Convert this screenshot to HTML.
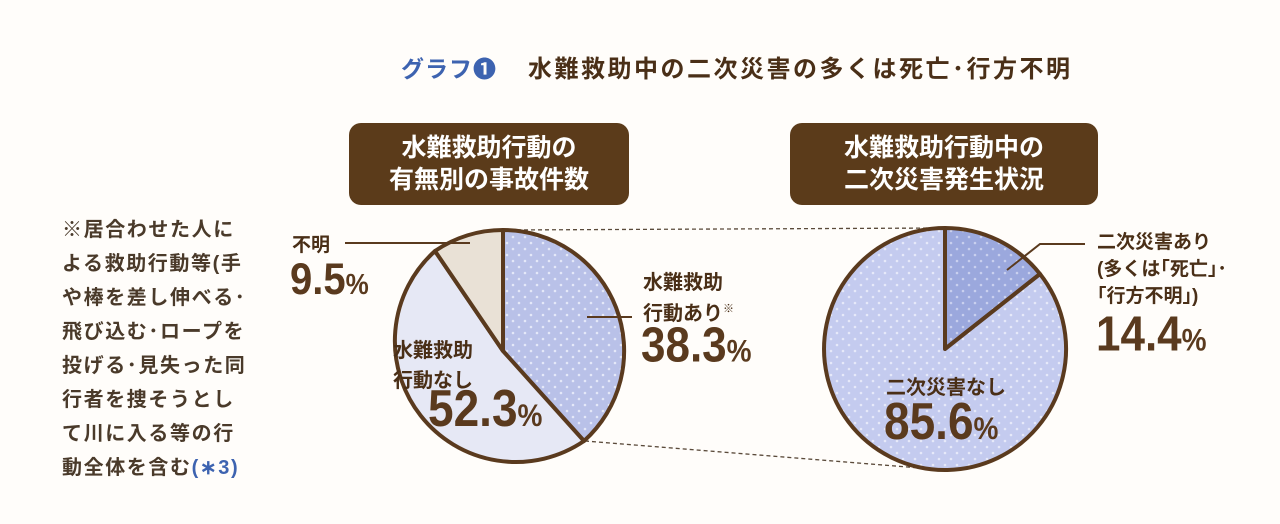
<!DOCTYPE html>
<html><head><meta charset="utf-8"><style>
html,body{margin:0;padding:0;background:#fffdfa;}
body{width:1280px;height:524px;position:relative;overflow:hidden;font-family:"Liberation Sans","Noto Sans CJK JP",sans-serif;}
.t{position:absolute;white-space:nowrap;}
.note{position:absolute;left:62px;top:213px;font-size:20px;line-height:34px;color:#4a3a2a;font-weight:bold;letter-spacing:1.6px;}
.box{position:absolute;background:#5b3b1a;border-radius:12px;color:#fff;font-weight:bold;font-size:25px;line-height:32px;text-align:center;}
.n{transform-origin:0 0;transform:scaleY(1.12);}
</style></head><body>
<div class="t" style="left:401px;top:50px;font-size:23px;font-weight:bold;color:#3d63b0;letter-spacing:1px;">グラフ❶</div>
<div class="t" style="left:528px;top:49px;font-size:24px;font-weight:bold;color:#4a2f17;letter-spacing:2.5px;">水難救助中の二次災害の多くは死亡･行方不明</div>
<div class="box" style="left:349px;top:123px;width:280px;height:82px;padding-top:9px;box-sizing:border-box;">水難救助行動の<br>有無別の事故件数</div>
<div class="box" style="left:790px;top:123px;width:308px;height:82px;padding-top:9px;box-sizing:border-box;">水難救助行動中の<br>二次災害発生状況</div>
<div class="note">※居合わせた人に<br>よる救助行動等(手<br>や棒を差し伸べる･<br>飛び込む･ロープを<br>投げる･見失った同<br>行者を捜そうとし<br>て川に入る等の行<br>動全体を含む<span style="color:#3d63b0">(∗3)</span></div>
<svg width="1280" height="524" style="position:absolute;left:0;top:0">
<defs>
<pattern id="d1" width="12" height="12" patternUnits="userSpaceOnUse"><rect width="12" height="12" fill="#b9c1e8"/><circle cx="3" cy="3" r="1.3" fill="#e4e8f8"/><circle cx="9" cy="9" r="1.3" fill="#e4e8f8"/></pattern>
<pattern id="d2" width="12" height="12" patternUnits="userSpaceOnUse"><rect width="12" height="12" fill="#c4cbef"/><circle cx="3" cy="3" r="1.3" fill="#e6e9f9"/><circle cx="9" cy="9" r="1.3" fill="#e6e9f9"/></pattern>
<pattern id="d3" width="12" height="12" patternUnits="userSpaceOnUse"><rect width="12" height="12" fill="#9ba8dd"/><circle cx="3" cy="3" r="1.3" fill="#c9d0ef"/><circle cx="9" cy="9" r="1.3" fill="#c9d0ef"/></pattern>
</defs>
<line x1="503" y1="230" x2="945" y2="228" stroke="#5a4a3a" stroke-width="1.3" stroke-dasharray="4,3"/>
<line x1="585" y1="441" x2="945" y2="470" stroke="#5a4a3a" stroke-width="1.3" stroke-dasharray="4,3"/>
<g stroke="#5a3a1e" stroke-width="4" stroke-linejoin="round">
<path d="M503,351 L503,230 A121,121 0 0 1 584,441 Z" fill="url(#d1)"/>
<path d="M503,351 L584,441 A121,121 0 0 1 435,251 Z" fill="#e6e8f5"/>
<path d="M503,351 L435,251 A121,121 0 0 1 503,230 Z" fill="#e9e1d6"/>
<path d="M945,349 L945,228 A121,121 0 0 1 1040,274 Z" fill="url(#d3)"/>
<path d="M945,349 L1040,274 A121,121 0 1 1 945,228 Z" fill="url(#d2)"/>
</g>
<g stroke="#5a3a1e" stroke-width="2" fill="none">
<line x1="345" y1="243" x2="470" y2="243"/>
<line x1="587" y1="317" x2="632" y2="317"/>
<polyline points="1007,270 1040,244 1085,244"/>
</g>
</svg>
<div class="t" style="left:292px;top:230px;font-size:19px;font-weight:bold;color:#4a2f17;">不明</div>
<div class="t n" style="left:290px;top:255px;font-size:40px;font-weight:bold;color:#5a3a1e;">9.5<span style="font-size:26px">%</span></div>
<div class="t" style="left:643px;top:268px;font-size:20px;line-height:31px;font-weight:bold;color:#4a2f17;">水難救助<br>行動あり<span style="font-size:11px;vertical-align:top;line-height:20px;">※</span></div>
<div class="t n" style="left:641px;top:318px;font-size:44px;font-weight:bold;color:#5a3a1e;">38.3<span style="font-size:28px">%</span></div>
<div class="t" style="left:393px;top:336px;font-size:20px;line-height:30px;font-weight:bold;color:#4a2f17;">水難救助<br>行動なし</div>
<div class="t n" style="left:428px;top:378px;font-size:46px;font-weight:bold;color:#5a3a1e;">52.3<span style="font-size:28px">%</span></div>
<div class="t" style="left:1097px;top:229px;font-size:19px;line-height:27px;font-weight:bold;color:#4a2f17;">二次災害あり<br>(多くは｢死亡｣･<br>｢行方不明｣)</div>
<div class="t n" style="left:1096px;top:307px;font-size:44px;font-weight:bold;color:#5a3a1e;">14.4<span style="font-size:28px">%</span></div>
<div class="t" style="left:886px;top:371px;font-size:20px;font-weight:bold;color:#4a2f17;">二次災害なし</div>
<div class="t n" style="left:884px;top:391px;font-size:46px;font-weight:bold;color:#5a3a1e;">85.6<span style="font-size:28px">%</span></div>
</body></html>
